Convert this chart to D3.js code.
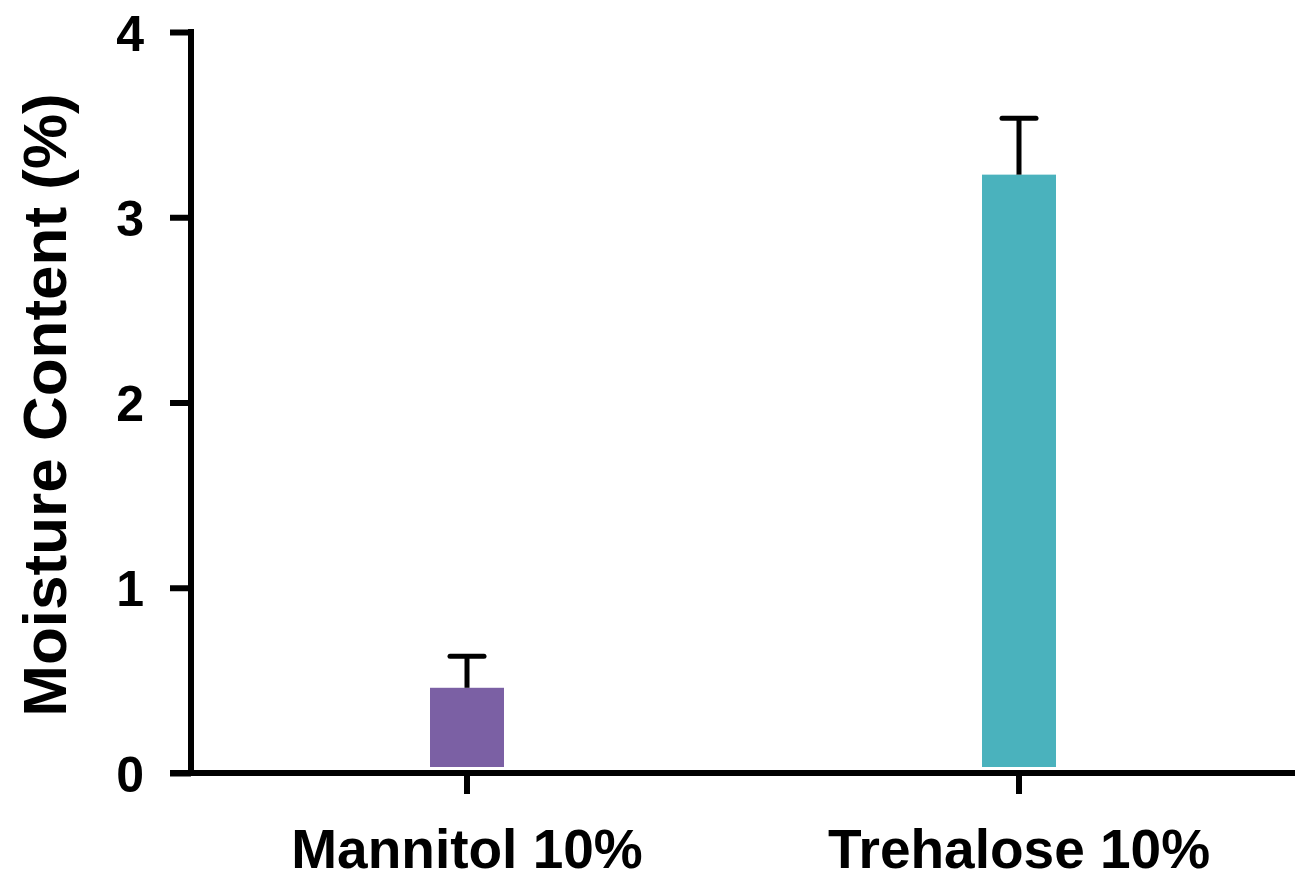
<!DOCTYPE html>
<html>
<head>
<meta charset="utf-8">
<script src="https://cdn.jsdelivr.net/npm/d3@7"></script>
<style>
  html, body { margin: 0; padding: 0; background: #fff; }
  svg { display: block; }
  text { font-family: "Liberation Sans", Arial, sans-serif; font-weight: bold; fill: #000; }
</style>
</head>
<body>
<svg id="chart" width="1303" height="880"></svg>
<script>
// Moisture content of freeze-dried formulations
const categories = ["Mannitol 10%", "Trehalose 10%"];
const means = [0.46, 3.23];
const errors = [0.17, 0.305];
const barColors = ["#7b60a4", "#4ab2bd"];
const yTicks = [0, 1, 2, 3, 4];
const yLabel = "Moisture Content (%)";

const svg = d3.select("#chart");
const plotLeft = 191, plotRight = 1295, plotTop = 32, plotBottom = 773;

const x = d3.scaleBand().domain(categories).range([plotLeft, plotRight]).padding(0);
const y = d3.scaleLinear().domain([0, 4]).range([plotBottom, plotTop]);
const barW = 74;
const capW = 34;

// bars
svg.append("g").selectAll("rect")
  .data(categories)
  .join("rect")
  .attr("x", (d) => x(d) + x.bandwidth() / 2 - barW / 2)
  .attr("y", (d, i) => y(means[i]))
  .attr("width", barW)
  .attr("height", (d, i) => y(0) - 6 - y(means[i]))
  .attr("fill", (d, i) => barColors[i]);

// error bars (upper only)
const eb = svg.append("g").attr("stroke", "#000").attr("stroke-width", 5);
categories.forEach((c, i) => {
  const cx = x(c) + x.bandwidth() / 2;
  eb.append("line")
    .attr("x1", cx).attr("x2", cx)
    .attr("y1", y(means[i])).attr("y2", y(means[i] + errors[i]));
  eb.append("line")
    .attr("x1", cx - capW / 2).attr("x2", cx + capW / 2)
    .attr("y1", y(means[i] + errors[i])).attr("y2", y(means[i] + errors[i]))
    .attr("stroke-linecap", "round");
});

// y axis
const yAxis = svg.append("g")
  .attr("transform", `translate(${plotLeft},0)`)
  .call(d3.axisLeft(y).tickValues(yTicks).tickFormat(d3.format("d")).tickSize(21).tickSizeOuter(0).tickPadding(26));
yAxis.selectAll("path, line").attr("stroke", "#000").attr("stroke-width", 6);
yAxis.select("path").attr("d", `M0,${plotTop - 3}V${plotBottom}`);
yAxis.selectAll("text").attr("font-size", 50).attr("dy", "0.36em")
  .style("font-family", "'Liberation Sans', Arial, sans-serif").style("font-weight", "bold");

// x axis
const xAxis = svg.append("g")
  .attr("transform", `translate(0,${plotBottom})`)
  .call(d3.axisBottom(x).tickSize(21).tickSizeOuter(0).tickPadding(35));
xAxis.selectAll("path, line").attr("stroke", "#000").attr("stroke-width", 6);
xAxis.select("path").attr("d", `M${plotLeft - 21},0H${plotRight}`);
xAxis.selectAll("text").attr("font-size", 55)
  .style("font-family", "'Liberation Sans', Arial, sans-serif").style("font-weight", "bold");

// y label
svg.append("text")
  .attr("transform", `translate(66,405) rotate(-90)`)
  .attr("text-anchor", "middle")
  .attr("font-size", 62)
  .text(yLabel);
</script>
</body>
</html>
